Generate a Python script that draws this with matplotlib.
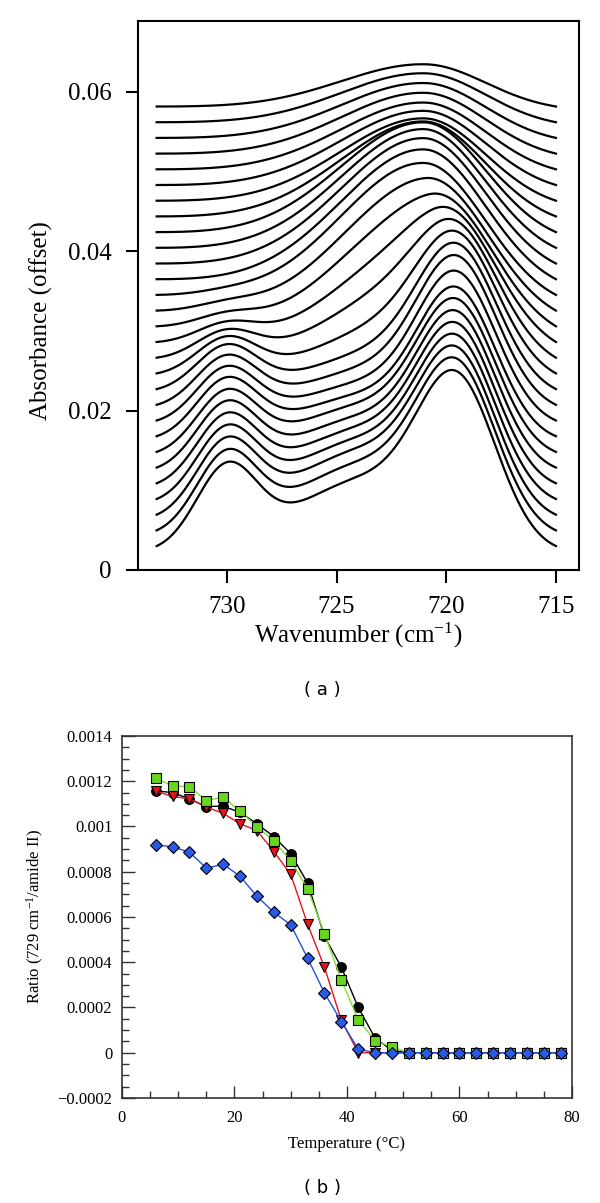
import numpy as np
import matplotlib.pyplot as plt

plt.rcParams['font.family'] = ['Liberation Serif', 'DejaVu Serif']
plt.rcParams['mathtext.fontset'] = 'custom'
plt.rcParams['mathtext.rm'] = 'Liberation Serif'
plt.rcParams['mathtext.it'] = 'Liberation Serif:italic'

# ---- panel (a): stacked spectra, bottom (cold) to top (hot) ----
amp_730 = [0.0102, 0.0098, 0.0094, 0.0090, 0.0086, 0.0082, 0.0077, 0.0073,
           0.0068, 0.0063, 0.0057, 0.0047, 0.0035, 0.0024, 0.0015, 0.0009,
           0.0004, 0, 0, 0, 0, 0, 0, 0, 0, 0, 0, 0, 0]
amp_719 = [0.0200, 0.0196, 0.0192, 0.0189, 0.0186, 0.0183, 0.0180, 0.0177,
           0.0173, 0.0165, 0.0150, 0.0125, 0.0090, 0.0055, 0.0025, 0.0008,
           0, 0, 0, 0, 0, 0, 0, 0, 0, 0, 0, 0, 0]
amp_gel = [0.0088, 0.0088, 0.0085, 0.0079, 0.0073, 0.0067, 0.0062, 0.0055,
           0.0047, 0.0039, 0.0031, 0.0025, 0.0019, 0.0011, 0.0005, 0, 0,
           0, 0, 0, 0, 0, 0, 0, 0, 0, 0, 0, 0]
amp_liq = [0, 0, 0, 0, 0, 0, 0, 0, 0.0008, 0.0020, 0.0035, 0.0060, 0.0095,
           0.0130, 0.0158, 0.0174, 0.0178, 0.0175, 0.0169, 0.0160, 0.0148,
           0.0128, 0.0111, 0.0100, 0.0090, 0.0082, 0.0074, 0.0066, 0.0057]
pos_liq = [720.0, 720.0, 720.0, 720.0, 720.0, 720.0, 720.0, 720.0, 720.0,
           720.1, 720.2, 720.3, 720.45, 720.6, 720.75, 720.9, 721.0, 721.0,
           721.0, 721.0, 721.0, 721.0, 721.0, 721.0, 721.0, 721.0, 721.0,
           721.0, 721.0]
offset_start = 0.003
offset_step = 0.00197

# ---- panel (b): 729 cm-1 band ratio vs temperature ----
temperature = [6, 9, 12, 15, 18, 21, 24, 27, 30, 33, 36, 39, 42, 45, 48,
               51, 54, 57, 60, 63, 66, 69, 72, 75, 78]
ratio_black = [0.001157, 0.00115, 0.001122, 0.001088, 0.00109, 0.001062,
               0.001012, 0.000955, 0.00088, 0.00075, 0.000514, 0.000378,
               0.0002, 0.000065, 0.00001, 0, 0, 0, 0, 0, 0, 0, 0, 0, 0]
ratio_red = [0.001156, 0.001133, 0.001122, 0.001086, 0.001058, 0.001012,
             0.000982, 0.000889, 0.000788, 0.000568, 0.000378, 0.000143,
             0, 0, 0, 0, 0, 0, 0, 0, 0, 0, 0, 0, 0]
ratio_green = [0.001213, 0.00118, 0.001176, 0.001114, 0.00113, 0.001067,
               0.000999, 0.000937, 0.000848, 0.000725, 0.000526, 0.000322,
               0.000146, 0.000053, 0.000025, 0, 0, 0, 0, 0, 0, 0, 0, 0, 0]
ratio_blue = [0.000918, 0.000911, 0.000886, 0.000816, 0.000833, 0.00078,
              0.000691, 0.000621, 0.000565, 0.000418, 0.000264, 0.000138,
              0.000016, 0, 0, 0, 0, 0, 0, 0, 0, 0, 0, 0, 0]


def band(x, center, width):
    return np.exp(-(x - center) ** 2 / (2 * width ** 2))


def skew_band(x, center, left, right):
    width = np.where(x > center, left, right)
    return np.exp(-(x - center) ** 2 / (2 * width ** 2))


fig = plt.figure(figsize=(6, 12.03), dpi=100)

# top panel
ax1 = fig.add_axes([0.23, 0.5262, 0.735, 0.4564])
wn = np.linspace(733.2, 715.0, 500)
for k in range(len(amp_liq)):
    y = (amp_730[k] * band(wn, 730.0, 1.4)
         + amp_719[k] * band(wn, 719.5, 1.8)
         + amp_gel[k] * band(wn, 724.0, 3.0)
         + amp_liq[k] * skew_band(wn, pos_liq[k], 3.8, 2.8))
    # flat baseline through the two end points
    y = y - (y[0] + (y[-1] - y[0]) * (wn - wn[0]) / (wn[-1] - wn[0]))
    ax1.plot(wn, y + offset_start + k * offset_step, color='black', lw=1.6)

ax1.set_xlim(734.05, 713.95)
ax1.set_ylim(0, 0.0689)
ax1.set_xticks([730, 725, 720, 715])
ax1.set_xticklabels(['730', '725', '720', '715'])
ax1.set_yticks([0, 0.02, 0.04, 0.06])
ax1.set_yticklabels(['0', '0.02', '0.04', '0.06'])
ax1.tick_params(direction='out', length=9, width=1.5, labelsize=18, pad=10)
for s in ax1.spines.values():
    s.set_linewidth(1.5)
ax1.set_xlabel('Wavenumber (cm$^{-1}$)', fontsize=18, labelpad=2)
fig.text(0.068, 1 - 321 / 1203, 'Absorbance (offset)', fontsize=18,
         rotation=90, ha='center', va='center')
fig.text(0.537, 1 - 690 / 1203, '( a )', fontsize=13, family='DejaVu Sans',
         ha='center', va='center')

# bottom panel
ax2 = fig.add_axes([0.2033, 0.0873, 0.75, 0.3009])
ax2.plot(temperature, ratio_black, color='black', lw=1, marker='o', ms=7,
         mfc='black', mec='black', mew=0.8)
ax2.plot(temperature, ratio_red, color='#e8121b', lw=1, marker='v', ms=7.5,
         mfc='#e8121b', mec='black', mew=0.8)
ax2.plot(temperature, ratio_green, color='#7fe030', lw=1, marker='s', ms=6.5,
         mfc='#66d61e', mec='black', mew=0.8)
ax2.plot(temperature, ratio_blue, color='#2250e0', lw=1, marker='D', ms=6,
         mfc='#2a5ae8', mec='black', mew=0.8)

ax2.set_xlim(0, 80)
ax2.set_ylim(-0.0002, 0.0014)
ax2.set_xticks([0, 20, 40, 60, 80])
ax2.set_xticks(np.arange(0, 81, 5), minor=True)
ax2.set_yticks([-0.0002, 0, 0.0002, 0.0004, 0.0006, 0.0008, 0.001,
                0.0012, 0.0014])
ax2.set_yticklabels(['\u22120.0002', '0', '0.0002', '0.0004', '0.0006',
                     '0.0008', '0.001', '0.0012', '0.0014'])
ax2.set_yticks(np.arange(-0.0002, 0.00141, 0.00005), minor=True)
ax2.tick_params(which='both', direction='in', labelsize=12, color='#333333')
ax2.tick_params(which='major', length=9, width=1)
ax2.tick_params(which='minor', length=5, width=1)
ax2.tick_params(axis='x', pad=9)
ax2.tick_params(axis='y', pad=7)
for s in ax2.spines.values():
    s.set_linewidth(1.2)
    s.set_color('#333333')
ax2.set_xlabel('Temperature (°C)', fontsize=12, labelpad=7)
ax2.set_ylabel('Ratio (729 cm$^{-1}$/amide II)', fontsize=12, labelpad=8)
fig.text(0.537, 1 - 1188 / 1203, '( b )', fontsize=13, family='DejaVu Sans',
         ha='center', va='center')

fig.savefig('out.png', dpi=100)
